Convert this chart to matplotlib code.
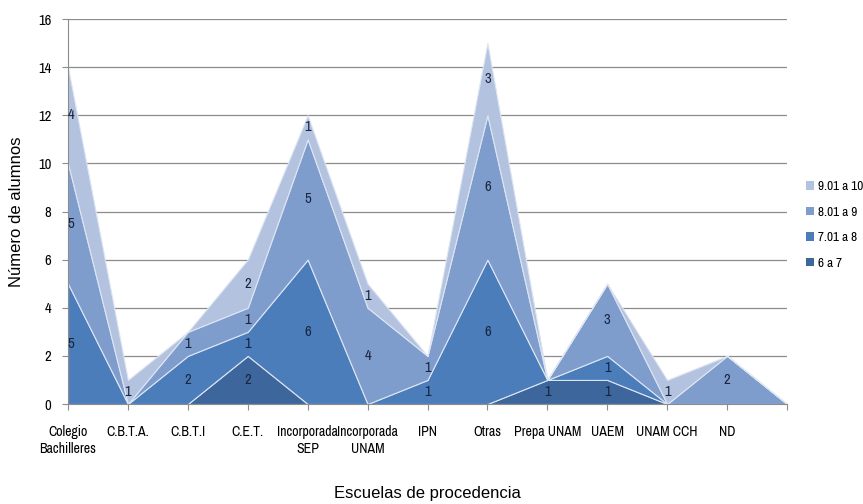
import matplotlib
matplotlib.use("Agg")
import matplotlib.pyplot as plt
import numpy as np
from matplotlib.patches import Patch

categories = ["Colegio\nBachilleres", "C.B.T.A.", "C.B.T.I", "C.E.T.", "Incorporada\nSEP",
              "Incorporada\nUNAM", "IPN", "Otras", "Prepa UNAM", "UAEM", "UNAM CCH", "ND", ""]
s_6a7 =    [0, 0, 0, 2, 0, 0, 0, 0, 1, 1, 0, 0, 0]
s_7a8 =    [5, 0, 2, 1, 6, 0, 1, 6, 0, 1, 0, 0, 0]
s_8a9 =    [5, 0, 1, 1, 5, 4, 1, 6, 0, 3, 0, 2, 0]
s_9a10 =   [4, 1, 0, 2, 1, 1, 0, 3, 0, 0, 1, 0, 0]
series_names = ["6 a 7", "7.01 a 8", "8.01 a 9", "9.01 a 10"]
colors = ["#3D679C", "#4A7DBA", "#7E9DCC", "#B3C3DF"]
yticks = [0, 2, 4, 6, 8, 10, 12, 14, 16]

narrow = ["Archivo Narrow", "DejaVu Sans"]
arial = ["Liberation Sans", "DejaVu Sans"]

fig = plt.figure(figsize=(8.63, 5.04), dpi=100)
ax = fig.add_axes([68/863, 1-404/504, (787-68)/863, (404-19)/504])

x = np.arange(len(categories))
data = [s_6a7, s_7a8, s_8a9, s_9a10]
ax.stackplot(x, *data, colors=colors, edgecolor="#DDE5F2", linewidth=0.8, zorder=2)

# data labels at band centres
cum = np.zeros(len(x))
for vals in data:
    v = np.array(vals, dtype=float)
    for i in range(len(x)):
        if v[i] > 0:
            xi = x[i] + (0.05 if i == 0 else 0)
            ax.text(xi, cum[i] + v[i]/2, str(int(v[i])), ha="center", va="center",
                    fontsize=10.5, color="#1A2540", family=narrow, zorder=5)
    cum += v

ax.set_xlim(0, 12)
ax.set_ylim(0, 16)
ax.set_yticks(yticks)
ax.set_yticklabels([str(t) for t in yticks], family=narrow, fontsize=10.5)
ax.set_xticks(x)
ax.set_xticklabels(categories, family=narrow, fontsize=10, linespacing=1.25)
ax.yaxis.grid(True, color="#8C8C8C", linewidth=0.9, zorder=0)
ax.set_axisbelow(True)
for s in ["top", "right"]:
    ax.spines[s].set_visible(False)
for s in ["left", "bottom"]:
    ax.spines[s].set_color("#8C8C8C")
    ax.spines[s].set_zorder(3)
ax.tick_params(axis="y", length=4, color="#8C8C8C", pad=8)
ax.tick_params(axis="x", length=4, color="#8C8C8C", pad=11)

ax.set_ylabel("Número de alumnos", family=arial, fontsize=12, labelpad=10)
ax.set_xlabel("Escuelas de procedencia", family=arial, fontsize=12, labelpad=22)

handles = [Patch(facecolor=c, edgecolor="none") for c in colors]
leg = fig.legend(handles[::-1], series_names[::-1], loc="center left",
                 bbox_to_anchor=(806/863, 1-225/504), frameon=False, borderpad=0,
                 borderaxespad=0,
                 prop={"family": narrow, "size": 9.5}, handlelength=0.6, handleheight=0.6,
                 handletextpad=0.3, labelspacing=1.1)

fig.savefig("out.png", dpi=100)
